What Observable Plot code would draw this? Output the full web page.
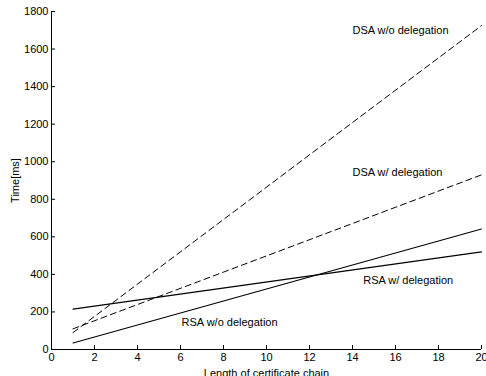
<!DOCTYPE html>
<html>
<head>
<meta charset="utf-8">
<script src="https://cdn.jsdelivr.net/npm/d3@7"></script>
<script src="https://cdn.jsdelivr.net/npm/@observablehq/plot@0.6"></script>
<style>
  html, body { margin: 0; padding: 0; background: #fff; }
  #chart svg { display: block; }
</style>
</head>
<body>
<div id="chart"></div>
<script>
// Chain lengths at which each series is read (endpoints of straight lines)
const chainLength = [1, 20];
const dsaWithout = [90, 1725];
const dsaWith = [110, 930];
const rsaWithout = [35, 642];
const rsaWith = [215, 520];

const xTicks = [0, 2, 4, 6, 8, 10, 12, 14, 16, 18, 20];
const yTicks = [0, 200, 400, 600, 800, 1000, 1200, 1400, 1600, 1800];

const labelNames = ["DSA w/o delegation", "DSA w/ delegation", "RSA w/ delegation", "RSA w/o delegation"];
const labelX = [14, 14, 14.5, 6.05];
const labelY = [1700, 945, 365, 146];

const series = [
  {name: "DSA w/o delegation", values: dsaWithout, dashed: true},
  {name: "DSA w/ delegation", values: dsaWith, dashed: true},
  {name: "RSA w/o delegation", values: rsaWithout, dashed: false},
  {name: "RSA w/ delegation", values: rsaWith, dashed: false}
];
const rows = series.flatMap(s => chainLength.map((x, i) => ({x, y: s.values[i], name: s.name, dashed: s.dashed})));
const labels = labelNames.map((t, i) => ({t, x: labelX[i], y: labelY[i]}));

const chart = Plot.plot({
  width: 486,
  height: 376,
  marginLeft: 51,
  marginRight: 5,
  marginTop: 11,
  marginBottom: 27,
  style: {fontFamily: "'Liberation Sans', Arial, sans-serif", fontSize: "11px", color: "#000", background: "#fff", overflow: "visible"},
  x: {domain: [0, 20]},
  y: {domain: [0, 1800]},
  marks: [
    Plot.axisX({ticks: xTicks, tickFormat: d => String(d), tickSize: -4, tickPadding: 8, label: "Length of certificate chain", labelAnchor: "center", labelArrow: "none", labelOffset: 27, fontSize: 11}),
    Plot.axisY({ticks: yTicks, tickFormat: d => String(d), tickSize: -4, tickPadding: 7, label: "Time[ms]", labelAnchor: "center", labelArrow: "none", labelOffset: 40, fontSize: 11}),
    Plot.ruleX([0], {stroke: "#000"}),
    Plot.ruleY([0], {stroke: "#000"}),
    Plot.line(rows.filter(d => d.dashed), {x: "x", y: "y", z: "name", stroke: "#000", strokeWidth: 1, strokeDasharray: "6,4"}),
    Plot.line(rows.filter(d => !d.dashed), {x: "x", y: "y", z: "name", stroke: "#000", strokeWidth: 1.1}),
    Plot.text(labels, {x: "x", y: "y", text: "t", textAnchor: "start", fontSize: 11, fill: "#000"})
  ]
});
document.getElementById("chart").appendChild(chart);
</script>
</body>
</html>
